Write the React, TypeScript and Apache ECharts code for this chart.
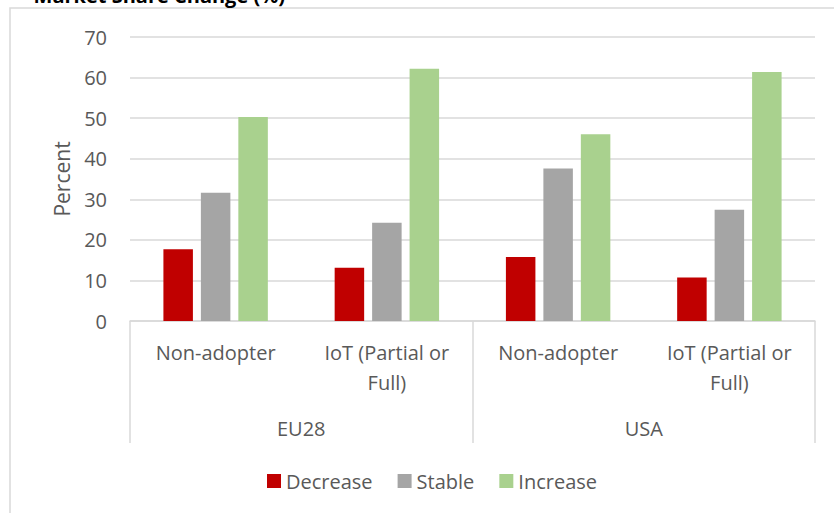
import React, { useEffect, useRef } from "react";
import * as echarts from "echarts";

const categories = ["Non-adopter", "IoT (Partial or\nFull)", "Non-adopter", "IoT (Partial or\nFull)"];
const groups = ["EU28", "USA"];
const seriesNames = ["Decrease", "Stable", "Increase"];
const decreaseValues = [17.7, 13.1, 15.8, 10.7];
const stableValues = [31.6, 24.2, 37.6, 27.4];
const increaseValues = [50.3, 62.2, 46.0, 61.4];
const colors = ["#C00000", "#A5A5A5", "#A9D18E"];
const titleText = "Market Share Change (%)";
const yAxisName = "Percent";

const FONT = "'Open Sans', sans-serif";
const TEXT_COLOR = "#595959";
const LINE_COLOR = "#D9D9D9";

export default function App() {
  const ref = useRef<HTMLDivElement>(null);
  useEffect(() => {
    if (!ref.current) return;
    const chart = echarts.init(ref.current, null, { renderer: "svg" });
    const valuesList = [decreaseValues, stableValues, increaseValues];
    chart.setOption({
      animation: false,
      textStyle: { fontFamily: FONT },
      graphic: [
        {
          type: "rect",
          shape: { x: 10, y: 8, width: 900, height: 600 },
          style: { fill: "none", stroke: LINE_COLOR, lineWidth: 1.5 },
          silent: true,
        },
        {
          type: "text",
          x: 285,
          y: 5,
          style: {
            text: titleText,
            font: "bold 20px 'Open Sans', sans-serif",
            fill: "#000000",
            textAlign: "right",
            textVerticalAlign: "bottom",
          },
        },
      ],
      grid: { left: 130, right: 19, top: 37, bottom: 192, containLabel: false },
      legend: {
        data: seriesNames,
        left: 262,
        top: 466,
        itemWidth: 14,
        itemHeight: 14,
        itemGap: 25,
        icon: "rect",
        textStyle: { fontSize: 20, color: TEXT_COLOR, fontFamily: FONT },
      },
      xAxis: [
        {
          type: "category",
          data: categories,
          position: "bottom",
          axisLine: { show: true, lineStyle: { color: LINE_COLOR, width: 1.5 } },
          axisTick: { show: false },
          axisLabel: {
            fontSize: 20,
            color: TEXT_COLOR,
            fontFamily: FONT,
            lineHeight: 30,
            margin: 16,
            interval: 0,
          },
        },
        {
          type: "category",
          data: groups,
          position: "bottom",
          axisLine: { show: false },
          axisTick: { show: true, length: 122, lineStyle: { color: LINE_COLOR, width: 1.5 } },
          axisLabel: { fontSize: 20, color: TEXT_COLOR, fontFamily: FONT, margin: 97, interval: 0 },
        },
      ],
      yAxis: {
        type: "value",
        min: 0,
        max: 70,
        interval: 10,
        name: yAxisName,
        nameLocation: "middle",
        nameRotate: 90,
        nameGap: 58,
        nameTextStyle: { fontSize: 21, color: TEXT_COLOR, fontFamily: FONT },
        axisLine: { show: false },
        axisTick: { show: false },
        axisLabel: { fontSize: 20, color: TEXT_COLOR, fontFamily: FONT, margin: 23 },
        splitLine: { lineStyle: { color: LINE_COLOR, width: 1.5 } },
      },
      series: seriesNames.map((name, i) => ({
        name,
        type: "bar",
        xAxisIndex: 0,
        data: valuesList[i],
        barWidth: 29.5,
        barGap: "27%",
        itemStyle: { color: colors[i] },
      })),
    });
    return () => chart.dispose();
  }, []);
  return (
    <div
      ref={ref}
      style={{ position: "fixed", left: 0, top: 0, width: 834, height: 513, background: "#ffffff" }}
    />
  );
}
